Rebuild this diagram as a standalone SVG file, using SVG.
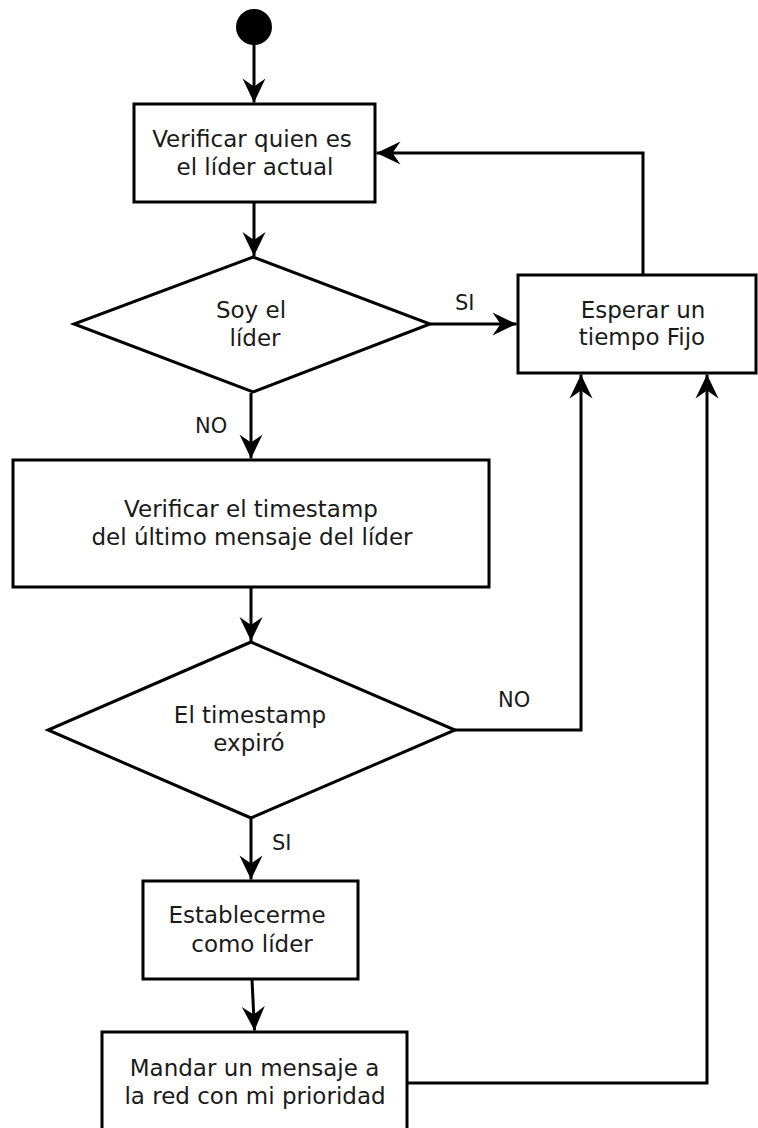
<svg xmlns="http://www.w3.org/2000/svg" width="758" height="1128" viewBox="0 0 758 1128">
  <style>
    .shape { fill: #ffffff; stroke: #000000; stroke-width: 3; }
    .edge { fill: none; stroke: #000000; stroke-width: 3; }
    .label { font-family: "DejaVu Sans", "Liberation Sans", sans-serif; font-size: 23px; fill: #1a1a1a; text-anchor: middle; }
    .tag { font-family: "DejaVu Sans", "Liberation Sans", sans-serif; font-size: 21px; fill: #1a1a1a; }
  </style>
  <defs>
    <!-- concave filled arrowhead, tip at the path end -->
    <marker id="arrow" markerUnits="userSpaceOnUse" markerWidth="28" markerHeight="28" viewBox="-26 -13 28 26" refX="0" refY="0" orient="auto">
      <path d="M0,0 L-24,-11.5 L-16,0 L-24,11.5 Z" fill="#000000"/>
    </marker>
  </defs>

  <rect width="758" height="1128" fill="#ffffff"/>

  <!-- connectors -->
  <g id="connectors">
    <path class="edge" d="M254,45 V102.5" marker-end="url(#arrow)"/>
    <path class="edge" d="M254,202 V256" marker-end="url(#arrow)"/>
    <path class="edge" d="M430,324 H516.5" marker-end="url(#arrow)"/>
    <path class="edge" d="M643,275 V153 H376.5" marker-end="url(#arrow)"/>
    <path class="edge" d="M251,393 V458.5" marker-end="url(#arrow)"/>
    <path class="edge" d="M251,588 V641" marker-end="url(#arrow)"/>
    <path class="edge" d="M455,730 H581 V374.5" marker-end="url(#arrow)"/>
    <path class="edge" d="M251,818 V879.5" marker-end="url(#arrow)"/>
    <path class="edge" d="M252,980 L254.5,1030.5" marker-end="url(#arrow)"/>
    <path class="edge" d="M407,1083 H707 V374.5" marker-end="url(#arrow)"/>
    <text class="tag" x="455" y="310">SI</text>
    <text class="tag" x="195" y="433">NO</text>
    <text class="tag" x="498" y="707">NO</text>
    <text class="tag" x="272" y="850">SI</text>
  </g>

  <!-- start -->
  <g id="start">
    <circle cx="254" cy="27" r="18" fill="#000000"/>
  </g>

  <g id="check-leader">
    <rect class="shape" x="134" y="104" width="241" height="98"/>
    <text class="label" x="252" y="146.5">Verificar quien es</text>
    <text class="label" x="255" y="175">el líder actual</text>
  </g>

  <g id="am-i-leader">
    <polygon class="shape" points="253,257 430,324 253,392 74,324"/>
    <text class="label" x="251" y="318">Soy el</text>
    <text class="label" x="255" y="346">líder</text>
  </g>

  <g id="wait">
    <rect class="shape" x="518" y="275" width="238" height="98"/>
    <text class="label" x="643" y="318">Esperar un</text>
    <text class="label" x="642" y="345">tiempo Fijo</text>
  </g>

  <g id="check-timestamp">
    <rect class="shape" x="13" y="460" width="476" height="127"/>
    <text class="label" x="251" y="516.5">Verificar el timestamp</text>
    <text class="label" x="252" y="545">del último mensaje del líder</text>
  </g>

  <g id="timestamp-expired">
    <polygon class="shape" points="251,642 455,730 251,818 48,730"/>
    <text class="label" x="250" y="722.5">El timestamp</text>
    <text class="label" x="249" y="750.5">expiró</text>
  </g>

  <g id="become-leader">
    <rect class="shape" x="143" y="881" width="215" height="98"/>
    <text class="label" x="247" y="923">Establecerme</text>
    <text class="label" x="252" y="951.5">como líder</text>
  </g>

  <g id="send-priority">
    <rect class="shape" x="102" y="1032" width="305" height="110"/>
    <text class="label" x="254.5" y="1076">Mandar un mensaje a</text>
    <text class="label" x="255" y="1104">la red con mi prioridad</text>
  </g>
</svg>
